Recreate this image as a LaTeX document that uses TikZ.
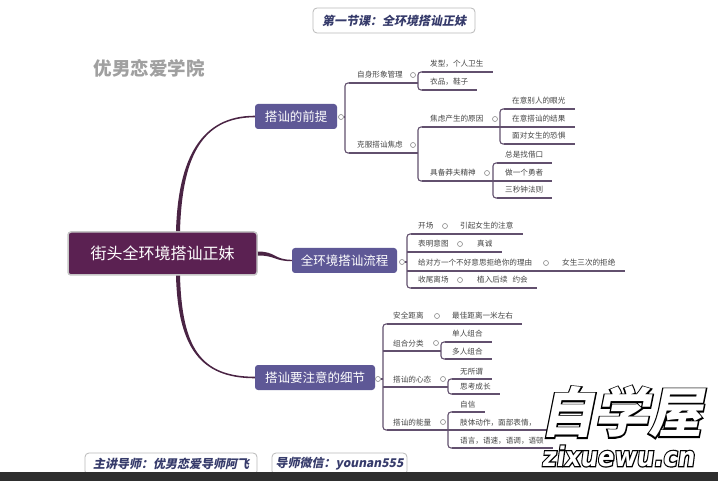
\documentclass[tikz,border=0pt]{standalone}
\usepackage{fontspec}
\newfontfamily\cjk{Noto Sans CJK SC}
\newfontfamily\cjksl{Noto Sans CJK SC}[FakeSlant=0.2]
\newfontfamily\cjkslfat{Noto Sans CJK SC}[FakeSlant=0.2, FakeBold=5]
\newfontfamily\wmlat{DejaVu Sans}[FakeSlant=0.15]
\newfontfamily\wmlatfat{DejaVu Sans}[FakeSlant=0.15, FakeBold=9]
\usetikzlibrary{calc}
\definecolor{mainfill}{HTML}{5B2152}
\definecolor{brfill}{HTML}{5E5896}
\definecolor{curvec}{HTML}{4A2444}
\definecolor{linec}{HTML}{62506E}
\definecolor{txt}{HTML}{454545}
\definecolor{circ}{HTML}{8A8A8A}
\definecolor{titlec}{HTML}{363B6B}
\definecolor{wmgray}{HTML}{A0A0A0}
\definecolor{barc}{HTML}{2E2E2E}
\tikzset{
  tp/.style={font=\cjk\fontsize{7.6}{9}\selectfont, text=txt, inner sep=0pt, anchor=base west},
  ul/.style={draw=linec, line width=1.1pt},
  rc/.style={rounded corners=3pt},
  dot/.style={circle, draw=circ, fill=white, line width=0.6pt, minimum size=5pt, inner sep=0pt},
  mainbox/.style={rectangle, rounded corners=3pt, fill=mainfill, draw=gray!45, line width=1.5pt, text=white, font=\cjk\fontsize{16}{18}\selectfont, inner sep=0pt},
  brbox/.style={rectangle, rounded corners=3pt, fill=brfill, text=white, font=\cjk\fontsize{12.5}{14}\selectfont, inner sep=0pt, minimum height=25pt},
  infobox/.style={rectangle, rounded corners=4pt, draw=gray!55, line width=0.8pt, fill=white, text=titlec, font=\cjksl\bfseries\fontsize{12}{14}\selectfont, inner sep=0pt},
  wmbig/.style={font=\cjksl\bfseries\fontsize{54}{56}\selectfont, inner sep=0pt},
  wmbigfat/.style={font=\cjkslfat\bfseries\fontsize{54}{56}\selectfont, inner sep=0pt},
  wmsmall/.style={font=\wmlat\bfseries\fontsize{27}{28}\selectfont, inner sep=0pt, xscale=0.9},
  wmsmallfat/.style={font=\wmlatfat\bfseries\fontsize{27}{28}\selectfont, inner sep=0pt, xscale=0.9},
}
\newcommand{\topicat}[4]{\node[tp] (#1) at (#2,{#3-5}) {#4};}
\newcommand{\tline}[3]{\draw[ul] (#2,#3) -- ([xshift=9pt,yshift=-5pt]#1.base east);}
\newcommand{\knob}[3]{\node[dot] (#1) at (#2,#3) {};}
\begin{document}
\begin{tikzpicture}[x=1pt,y=-1pt]
\useasboundingbox (0,0) rectangle (718,481);
\fill[white] (0,0) rectangle (718,481);

% watermark top-left
\node[font=\cjk\bfseries\fontsize{18.5}{20}\selectfont, text=wmgray, inner sep=0pt] (wm1) at (149,68) {优男恋爱学院};

% title
\node[infobox, minimum width=162pt, minimum height=25pt] (title) at (394,20.5) {第一节课：全环境搭讪正妹};

% main and branch nodes
\node[mainbox, minimum width=189pt, minimum height=43pt] (main) at (162.5,253.5) {街头全环境搭讪正妹};
\node[brbox, minimum width=82pt] (b1) at (296,116.5) {搭讪的前提};
\node[brbox, minimum width=105pt] (b2) at (344.5,260.5) {全环境搭讪流程};
\node[brbox, minimum width=120pt] (b3) at (315,377.5) {搭讪要注意的细节};

% curved connectors
\coordinate (s1) at ([xshift=15.5pt]main.north);
\coordinate (s3) at ([xshift=15.5pt]main.south);
\fill[curvec] ([xshift=-2pt]s1) .. controls (178,160) and (200,115.7) .. ([yshift=0.8pt]b1.west)
  -- ([yshift=-0.8pt]b1.west) .. controls (200,117.3) and (182,160) .. ([xshift=2pt]s1) -- cycle;
\fill[curvec] ([xshift=-2pt]s3) .. controls (178,347) and (200,378.3) .. ([yshift=-0.8pt]b3.west)
  -- ([yshift=0.8pt]b3.west) .. controls (200,376.7) and (182,347) .. ([xshift=2pt]s3) -- cycle;
\fill[curvec] ([yshift=2pt]main.east) .. controls (276,251.5) and (274,259.8) .. ([yshift=0.7pt]b2.west)
  -- ([yshift=-0.7pt]b2.west) .. controls (274,261.2) and (276,255.5) .. ([yshift=-2pt]main.east) -- cycle;

% ---------- branch 1 ----------
\knob{k1}{341}{117}
\draw[ul] (k1.east) -- (345,117);
\draw[ul,rc] (349,83) -- (345,83) -- (345,153) -- (349,153);
\topicat{a1}{357}{83}{自身形象管理}
\knob{a1k}{413}{75}
\draw[ul] (349,83) -- (418,83);
\topicat{a11}{430}{72}{发型，个人卫生}
\topicat{a12}{430}{90}{衣品，鞋子}
\draw[ul,rc] (422,72) -- (418,72) -- (418,90) -- (422,90);
\tline{a11}{422}{72}
\tline{a12}{422}{90}

\topicat{a2}{357}{153}{克服搭讪焦虑}
\knob{a2k}{413}{145}
\draw[ul] (349,153) -- (418,153);
\draw[ul,rc] (422,127) -- (418,127) -- (418,181) -- (422,181);
\topicat{a21}{430}{127}{焦虑产生的原因}
\knob{a21k}{495}{119}
\draw[ul] (422,127) -- (500,127);
\topicat{a211}{512}{109}{在意别人的眼光}
\topicat{a212}{512}{127}{在意搭讪的结果}
\topicat{a213}{512}{144}{面对女生的恐惧}
\draw[ul,rc] (504,109) -- (500,109) -- (500,144) -- (504,144);
\tline{a211}{504}{109}
\tline{a212}{500}{127}
\tline{a213}{504}{144}
\topicat{a22}{430}{181}{具备莽夫精神}
\knob{a22k}{487}{173}
\draw[ul] (422,181) -- (493,181);
\topicat{a221}{505}{163}{总是找借口}
\topicat{a222}{505}{181}{做一个勇者}
\topicat{a223}{505}{198}{三秒钟法则}
\draw[ul,rc] (497,163) -- (493,163) -- (493,198) -- (497,198);
\tline{a221}{497}{163}
\tline{a222}{493}{181}
\tline{a223}{497}{198}

% ---------- branch 2 ----------
\knob{k2}{402}{262}
\draw[ul] (k2.east) -- (407,262);
\draw[ul,rc] (411,234) -- (407,234) -- (407,288) -- (411,288);
\topicat{r1}{418}{234}{开场}
\knob{r1k}{445}{226}
\topicat{r1c}{460}{234}{引起女生的注意}
\tline{r1c}{411}{234}
\topicat{r2}{418}{252}{表明意图}
\knob{r2k}{460}{244}
\topicat{r2c}{477}{252}{真诚}
\tline{r2c}{407}{252}
\topicat{r3}{418}{271}{给对方一个不好意思拒绝你的理由}
\knob{r3k}{546}{263}
\topicat{r3c}{562}{271}{女生三次的拒绝}
\tline{r3c}{407}{271}
\topicat{r4}{418}{288}{收尾离场}
\knob{r4k}{460}{280}
\topicat{r4c}{477}{288}{植入后续\hspace{5pt}约会}
\tline{r4c}{411}{288}

% ---------- branch 3 ----------
\knob{k3}{378}{379}
\draw[ul] (k3.east) -- (383,379);
\draw[ul,rc] (387,324) -- (383,324) -- (383,430) -- (387,430);
\topicat{d1}{393}{324}{安全距离}
\knob{d1k}{437}{316}
\topicat{d1c}{452}{324}{最佳距离一米左右}
\tline{d1c}{387}{324}
\topicat{d2}{393}{351}{组合分类}
\knob{d2k}{436}{343}
\draw[ul] (383,351) -- (441,351);
\draw[ul,rc] (445,342) -- (441,342) -- (441,359) -- (445,359);
\topicat{d21}{452}{342}{单人组合}
\topicat{d22}{452}{359}{多人组合}
\tline{d21}{445}{342}
\tline{d22}{445}{359}
\topicat{d3}{393}{387}{搭讪的心态}
\knob{d3k}{443}{379}
\draw[ul] (383,387) -- (448,387);
\draw[ul,rc] (452,379) -- (448,379) -- (448,394) -- (452,394);
\topicat{d31}{460}{379}{无所谓}
\topicat{d32}{460}{394}{思考成长}
\tline{d31}{452}{379}
\tline{d32}{452}{394}
\topicat{d4}{393}{430}{搭讪的能量}
\knob{d4k}{443}{422}
\draw[ul] (387,430) -- (448,430);
\draw[ul,rc] (452,412) -- (448,412) -- (448,448) -- (452,448);
\topicat{d41}{460}{412}{自信}
\topicat{d42}{460}{430}{肢体动作，面部表情，}
\topicat{d43}{460}{448}{语言，语速，语调，语顿}
\tline{d41}{452}{412}
\draw[ul] (448,430) -- (565,430);
\tline{d43}{452}{448}

% footer
\node[infobox, minimum width=172pt, minimum height=22pt] (f1) at (171,464) {主讲导师：优男恋爱导师阿飞};
\node[infobox, minimum width=135pt, minimum height=22pt] (f2) at (339.5,464) {导师微信：younan555};
\fill[barc] (0,472) rectangle (718,481);

% watermark bottom-right (outlined text)
\node[wmbigfat, text=black] (wm2o) at (621,412) {自学屋};
\node[wmsmallfat, text=black] (wm3o) at (618,456) {zixuewu.cn};
\node[wmbig, text=white] (wm2) at (621,412) {自学屋};
\node[wmsmall, text=white] (wm3) at (618,456) {zixuewu.cn};
\end{tikzpicture}
\end{document}
